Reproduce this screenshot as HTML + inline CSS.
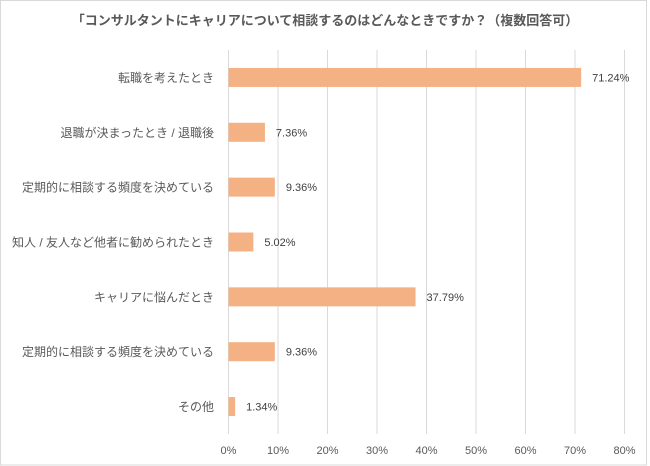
<!DOCTYPE html>
<html><head><meta charset="utf-8"><style>
body{margin:0;background:#fff;}
svg{display:block;font-family:"Liberation Sans","Noto Sans CJK JP",sans-serif;}
</style></head><body>
<svg id="c" width="650" height="466">
<rect x="0.5" y="0.5" width="646" height="464.5" fill="#fff" stroke="#d9d9d9"/>
<text x="325" y="25" text-anchor="middle" font-size="13" font-weight="bold" fill="#595959">「コンサルタントにキャリアについて相談するのはどんなときですか？（複数回答可）</text>
<g id="grid"></g><g id="bars"></g><g id="labels"></g>
</svg>
<script>
const categories=["転職を考えたとき","退職が決まったとき / 退職後","定期的に相談する頻度を決めている","知人 / 友人など他者に勧められたとき","キャリアに悩んだとき","定期的に相談する頻度を決めている","その他"];
const values=[71.24,7.36,9.36,5.02,37.79,9.36,1.34];
const ticks=[0,10,20,30,40,50,60,70,80];
const NS="http://www.w3.org/2000/svg";
const x0=228.5,x1=624.5,yTop=50,yBot=434;
const xs=v=>x0+(v/80)*(x1-x0);
const rowH=(yBot-yTop)/categories.length;
const yc=i=>yTop+rowH*(i+0.5);
function mk(t,a,p){const e=document.createElementNS(NS,t);for(const k in a)e.setAttribute(k,a[k]);p.appendChild(e);return e;}
const g=document.getElementById('grid'),b=document.getElementById('bars'),l=document.getElementById('labels');
ticks.forEach(t=>{
 const ln=mk('line',{x1:xs(t),x2:xs(t),y1:yTop,y2:yBot,stroke:'#d9d9d9','stroke-width':1},g);
 
 
 const tx=mk('text',{x:xs(t),y:454,'text-anchor':'middle','font-size':11,fill:'#595959'},g);
 tx.textContent=t+'%';
 
 
});
categories.forEach((c,i)=>{
 const y=yc(i);
 const r=mk('rect',{x:xs(0),y:y-9.5,width:xs(values[i])-xs(0),height:19,fill:'#f4b183'},b);
 
 
 const v=mk('text',{x:xs(values[i])+11,y:y+4,'font-size':11,fill:'#404040'},l);
 v.textContent=values[i].toFixed(2)+'%';
 
 
 const ct=mk('text',{x:214,y:y+4.5,'text-anchor':'end','font-size':12,fill:'#595959'},l);
 ct.textContent=c;
 
 
});
</script>
</body></html>
